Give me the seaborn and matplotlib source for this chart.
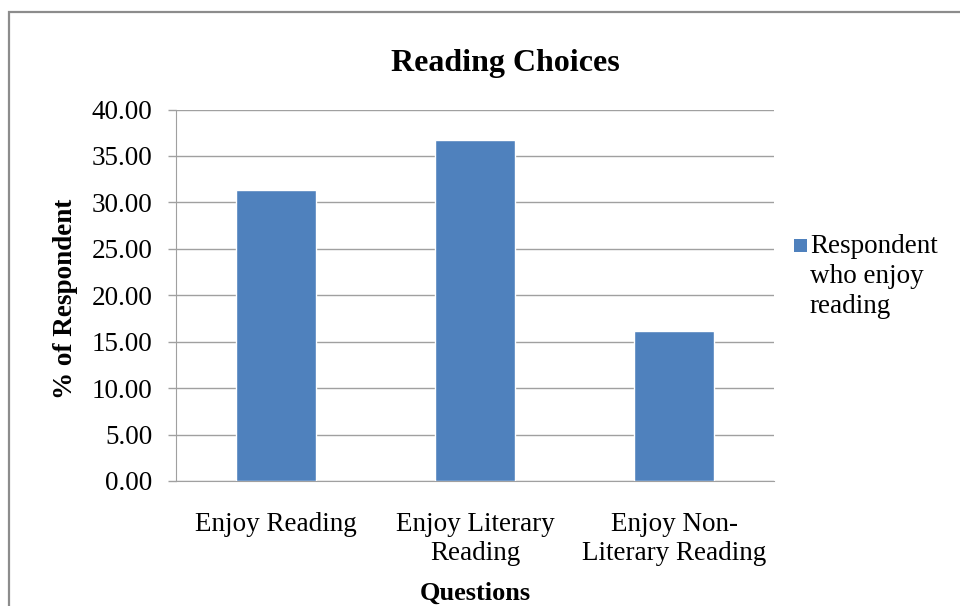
import pandas as pd
import seaborn as sns
import matplotlib.pyplot as plt
from matplotlib.patches import Rectangle
from matplotlib.legend_handler import HandlerBase

# Data
questions = ["Enjoy Reading", "Enjoy Literary\nReading", "Enjoy Non-\nLiterary Reading"]
percent = [31.3, 36.7, 16.1]
series_name = "Respondent\nwho enjoy\nreading"

df = pd.DataFrame({"question": questions, "percent": percent})

sns.set_style("white")
plt.rcParams['font.family'] = ['Liberation Serif', 'DejaVu Serif']
plt.rcParams['text.color'] = 'black'
plt.rcParams['axes.labelcolor'] = 'black'
plt.rcParams['xtick.color'] = 'black'
plt.rcParams['ytick.color'] = 'black'

BLUE = "#4F81BD"
GRID = "#a0a0a0"
LSP = 1.22       # line spacing of tick labels
LEG_LSP = 1.26   # line spacing of legend label


# legend key: small square level with the first text line
class TopSquare(HandlerBase):
    def create_artists(self, legend, orig_handle, xdescent, ydescent,
                       width, height, fontsize, trans):
        s = 0.46 * fontsize
        y0 = LEG_LSP * 0.905 * fontsize + 0.12 * fontsize
        sq = Rectangle((width - s - xdescent, y0), s, s,
                       facecolor=BLUE, edgecolor='none', transform=trans)
        return [sq]


fig = plt.figure(figsize=(9.6, 6.06), dpi=100)
ax = fig.add_axes([176/960, 1 - 481/606, (774-176)/960, (481-109.5)/606])

sns.barplot(data=df, x="question", y="percent", color=BLUE, width=0.4,
            saturation=1, label=series_name, ax=ax, zorder=3)

ax.set_xlim(-0.5, 2.5)
ax.set_ylim(0, 40)
ax.set_yticks(range(0, 41, 5))
ax.set_yticklabels([f"{v:.2f}" for v in range(0, 41, 5)], fontsize=19.5)
ax.set_xticks(range(len(questions)), questions, fontsize=19.5, linespacing=LSP,
              ha='center')
ax.tick_params(axis='x', length=0, pad=22)
ax.tick_params(axis='y', length=5.8, width=1, color=GRID, direction='out', left=True, pad=11)

ax.grid(axis='y', color=GRID, linewidth=1, zorder=0)
for s in ['top', 'right']:
    ax.spines[s].set_visible(False)
ax.spines['left'].set_color(GRID)
ax.spines['bottom'].set_color(GRID)

ax.set_xlabel("Questions", fontsize=19, fontweight='bold')
ax.set_ylabel("% of Respondent", fontsize=19.5, fontweight='bold')
ax.xaxis.set_label_coords(0.5, (481 - 582) / 371.5)
ax.yaxis.set_label_coords((78 - 176) / 598, 0.49)

fig.text(505/960, 1 - 63/606, "Reading Choices", fontsize=23, fontweight='bold',
         ha='center', va='center')

handles, labels = ax.get_legend_handles_labels()
leg = ax.legend(handles, labels, loc='upper left', bbox_to_anchor=(789/960, 1 - 234/606),
                bbox_transform=fig.transFigure, frameon=False, fontsize=19.5,
                handlelength=0.65, handleheight=0.7, handletextpad=0.12,
                borderaxespad=0, borderpad=0,
                handler_map={type(handles[0]): TopSquare()})
for t in leg.get_texts():
    t.set_linespacing(LEG_LSP)

# outer chart border (cut off at right and bottom)
fig.patches.append(Rectangle((8.5/960, -0.1), 1.2, 1.1 - 11.5/606,
                             transform=fig.transFigure, fill=False,
                             edgecolor='#8c8c8c', linewidth=1.6))

fig.savefig("out.png", dpi=100)
